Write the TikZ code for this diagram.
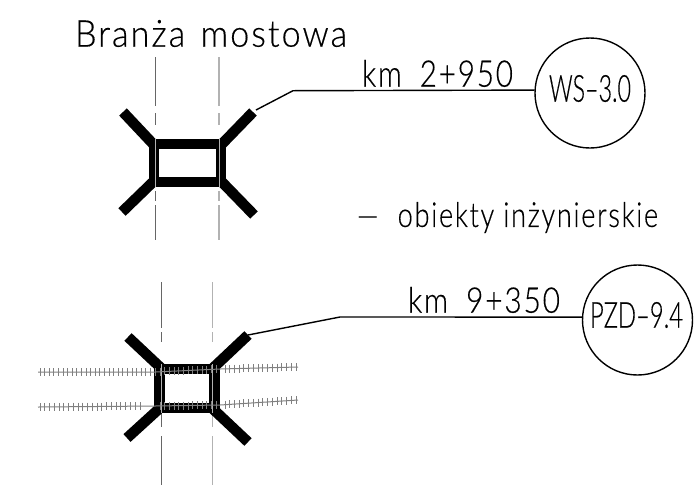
\documentclass[tikz,border=0pt]{standalone}
\usepackage{fontspec}
\usepackage{graphicx}
\setmainfont{Lato}[UprightFont=* Light,LetterSpace=6,FakeBold=0.35]
\newfontfamily\tagfont{Lato}[UprightFont=* Light,FakeBold=0.35]
\tikzset{
  x=1pt,y=-1pt,
  thick line/.style={line width=10.5pt,line cap=butt,black},
  leader/.style={line width=1.4pt,black},
  tag/.style={draw=black,line width=1.4pt,circle,minimum size=110pt,inner sep=0pt},
  lbl/.style={anchor=south west,inner sep=0pt,outer sep=0pt},
  axisdark/.style={line width=.7pt,draw=black!60},
  axislight/.style={line width=1.1pt,draw=black!30},
  rail/.style={line width=1pt,draw=black!50},
  tick/.style={line width=1pt,draw=black!50}
}
\newcommand{\fittext}[3]{\resizebox*{#1pt}{#2pt}{#3}}
\newcommand{\railticks}[5]{% x1,y1,x2,y2,count
  \foreach \i in {0,...,#5}{
    \pgfmathsetmacro{\tx}{#1+(#3-#1)*\i/#5}
    \pgfmathsetmacro{\ty}{#2+(#4-#2)*\i/#5}
    \draw[tick] (\tx,\ty-4) -- (\tx,\ty+4);
  }}
\begin{document}
\begin{tikzpicture}
\useasboundingbox[fill=white] (0,0) rectangle (700,496);
% upper axes
\foreach \xa/\st in {155/axisdark,219/axislight}{
  \draw[\st] (\xa,57) -- (\xa,106);
  \draw[\st] (\xa,113) -- (\xa,125);
  \draw[\st] (\xa,139) -- (\xa,187);
  \draw[\st] (\xa,191) -- (\xa,201);
  \draw[\st] (\xa,205) -- (\xa,240);
}
% upper bridge
\draw[thick line] (123,112) -- (155,146);
\draw[thick line] (253,112) -- (220,146);
\draw[thick line] (122,212) -- (155,180);
\draw[thick line] (254,215) -- (220,180);
\draw[thick line,line width=10pt] (154.2,139) -- (154.2,187);
\draw[thick line,line width=10pt] (221.2,139) -- (221.2,187);
\draw[thick line,line width=10pt] (149,144) -- (226,144);
\draw[thick line,line width=10pt] (149,182) -- (226,182);
\draw[line width=.8pt,draw=black!30] (155,139) -- (155,187) (219,139) -- (219,187);
% upper leader
\node[tag] (c1) at (590,93) {};
\coordinate (s1) at (256,110);
\coordinate (b1) at (293,90.7);
\draw[leader] (s1) -- (b1) -- (c1.177.6);
\node[lbl] (t1) at (75,47) {\fittext{272}{27}{Branża\hspace{.45em}mostowa}};
\node[lbl] (t2) at (362,87) {\fittext{151}{27}{km\hspace{.6em}2+950}};
\node[lbl] (t3) at (549,102) {\fittext{82}{27}{\tagfont WS–3.0}};
\node[lbl] (t4) at (357,233) {\fittext{301}{31}{—\hspace{.7em}obiekty inżynierskie}};
% lower axes
\foreach \xa/\st in {161.3/axisdark,212.7/axislight}{
  \draw[\st] (\xa,282) -- (\xa,328);
  \draw[\st] (\xa,332) -- (\xa,342);
  \draw[\st] (\xa,364) -- (\xa,427);
  \draw[\st] (\xa,436) -- (\xa,485);
}
% lower bridge
\draw[thick line] (128,337) -- (161,368);
\draw[thick line] (248,335) -- (213,368);
\draw[thick line] (127,438) -- (161,407);
\draw[thick line] (248,442) -- (213,409);
\draw[thick line] (159.7,364) -- (159.7,413);
\draw[thick line] (214.7,364) -- (214.7,413);
\draw[thick line] (154.3,369) -- (220,369);
\draw[thick line] (154.3,408) -- (220,408);
\draw[line width=.8pt,draw=black!30] (161.3,364) -- (161.3,413) (212.7,364) -- (212.7,413);
% rails
\draw[rail] (38,372) -- (155,372) -- (220,369) -- (298,367);
\draw[rail] (38,407) -- (155,406) -- (220,405) -- (298,400);
\railticks{40}{372}{155}{372}{25}
\railticks{160}{371.6}{216}{369.2}{12}
\railticks{225}{368.9}{296}{367}{15}
\railticks{40}{407}{140}{406.2}{21}
\railticks{160}{405.9}{216}{405.1}{12}
\railticks{225}{404.7}{296}{400.1}{15}
% lower leader
\node[tag] (c2) at (637.5,320) {};
\coordinate (s2) at (248,335);
\coordinate (b2) at (340,317);
\draw[leader] (s2) -- (b2) -- (c2.177);
\node[lbl] (t5) at (408,313) {\fittext{152}{26}{km\hspace{.6em}9+350}};
\node[lbl] (t6) at (590,328) {\fittext{93}{26}{\tagfont PZD–9.4}};
\end{tikzpicture}
\end{document}
